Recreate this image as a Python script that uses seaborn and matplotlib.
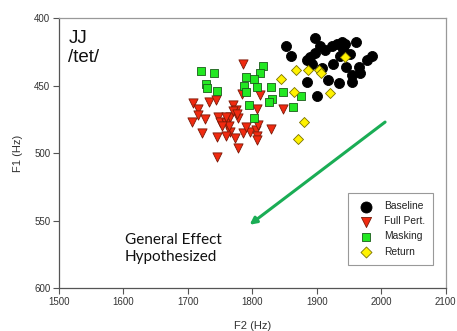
import matplotlib
matplotlib.use("Agg")
import matplotlib.pyplot as plt
import seaborn as sns
import pandas as pd

# ---- data (F2, F1 in Hz) ----
baseline_f2 = [1853, 1860, 1897, 1905, 1913, 1923, 1931, 1939, 1944, 1961,
               1885, 1892, 1890, 1897, 1926, 1936, 1952, 1945, 1954, 1965,
               1967, 1978, 1985, 1885, 1900, 1918, 1934, 1908, 1954, 1941]
baseline_f1 = [421, 428, 415, 421, 424, 421, 419, 418, 419, 418,
               431, 434, 429, 426, 434, 428, 427, 436, 442, 436,
               441, 431, 428, 447, 458, 446, 448, 437, 447, 423]

fullpert_f2 = [1786, 1708, 1733, 1744, 1716, 1716, 1727, 1706, 1722, 1745,
               1747, 1750, 1760, 1766, 1771, 1775, 1770, 1778, 1766, 1759,
               1773, 1778, 1786, 1797, 1806, 1808, 1807, 1809, 1829, 1807,
               1784, 1812, 1847, 1746, 1776, 1760, 1764, 1790, 1753]
fullpert_f1 = [434, 463, 462, 461, 467, 472, 475, 477, 485, 488,
               473, 477, 478, 473, 464, 468, 469, 474, 484, 487,
               489, 496, 485, 484, 483, 487, 490, 479, 482, 467,
               456, 457, 467.5, 503, 471, 473, 480, 481, 480]

masking_f2 = [1720, 1741, 1729, 1730, 1746, 1816, 1812, 1791, 1803, 1787,
              1807, 1829, 1790, 1848, 1830, 1826, 1864, 1876, 1795, 1803]
masking_f1 = [439, 441, 449, 452, 454, 435.5, 441, 444, 445, 450,
              451, 451, 455, 455, 460, 462, 466, 458, 464, 474]

return_f2 = [1944, 1868, 1886, 1904, 1907, 1845, 1865, 1921, 1881, 1871]
return_f1 = [429, 438.5, 438.5, 438.5, 441, 445.5, 454.5, 455.5, 477, 489.5]

conditions = ["Baseline", "Full Pert.", "Masking", "Return"]
x_ticks = [1500, 1600, 1700, 1800, 1900, 2000, 2100]
y_ticks = [400, 450, 500, 550, 600]

df = pd.concat([
    pd.DataFrame({"F2": baseline_f2, "F1": baseline_f1, "cond": "Baseline"}),
    pd.DataFrame({"F2": fullpert_f2, "F1": fullpert_f1, "cond": "Full Pert."}),
    pd.DataFrame({"F2": masking_f2, "F1": masking_f1, "cond": "Masking"}),
    pd.DataFrame({"F2": return_f2, "F1": return_f1, "cond": "Return"}),
], ignore_index=True)

styles = {
    "Baseline":   dict(color="#000000", edgecolor="#000000", marker="o", s=52),
    "Full Pert.": dict(color="#f02a10", edgecolor="#7a1a08", marker="v", s=44),
    "Masking":    dict(color="#22e822", edgecolor="#1a5c1a", marker="s", s=30),
    "Return":     dict(color="#fff200", edgecolor="#7a7200", marker="D", s=26),
}

sns.set_theme(style="white")
plt.rcParams["font.family"] = ["Liberation Sans", "DejaVu Sans"]

fig = plt.figure(figsize=(4.57, 3.31), dpi=100)
ax = fig.add_axes([0.1284, 0.129, 0.8469, 0.8166])

for c in conditions:
    st = styles[c]
    sns.scatterplot(data=df[df["cond"] == c], x="F2", y="F1", ax=ax,
                    color=st["color"], edgecolor=st["edgecolor"],
                    marker=st["marker"], s=st["s"], linewidth=0.6,
                    label=c, zorder=3)

ax.set_xlim(1500, 2100)
ax.set_ylim(600, 400)
ax.set_xticks(x_ticks)
ax.set_yticks(y_ticks)
ax.tick_params(axis="both", which="major", direction="out", length=4,
               width=0.8, color="#555555", labelsize=7, labelcolor="#333333",
               bottom=True, left=True, pad=2)
for side in ["left", "bottom"]:
    ax.spines[side].set_color("#555555")
    ax.spines[side].set_linewidth(0.9)
for side in ["top", "right"]:
    ax.spines[side].set_color("#999999")
    ax.spines[side].set_linewidth(0.9)

ax.set_xlabel("F2 (Hz)", fontsize=8, color="#333333", labelpad=10)
ax.set_ylabel("F1 (Hz)", fontsize=8, color="#333333", labelpad=8)

# arrow annotation
ax.annotate("", xy=(1796, 553), xytext=(2006, 477),
            arrowprops=dict(arrowstyle="-|>", color="#1aad55", lw=2.2,
                            mutation_scale=10, shrinkA=0, shrinkB=0),
            zorder=2)

ax.text(0.025, 0.955, "JJ\n/tet/", transform=ax.transAxes, fontsize=13.5,
        va="top", ha="left", color="#111111", linespacing=1.15)
ax.text(1603, 559, "General Effect\nHypothesized", fontsize=11,
        va="top", ha="left", color="#111111", family=["Lato", "DejaVu Sans"],
        linespacing=1.25)

leg = ax.legend(loc="upper left", bbox_to_anchor=(0.7475, 0.3526),
                fontsize=7.4, frameon=True, fancybox=False, framealpha=1,
                edgecolor="#999999", borderpad=0.8, labelspacing=0.5,
                handletextpad=0.7, borderaxespad=0, handlelength=2.0,
                markerscale=1.1)
leg.get_frame().set_linewidth(0.8)
for t in leg.get_texts():
    t.set_color("#222222")

fig.savefig("out.png", dpi=100)
